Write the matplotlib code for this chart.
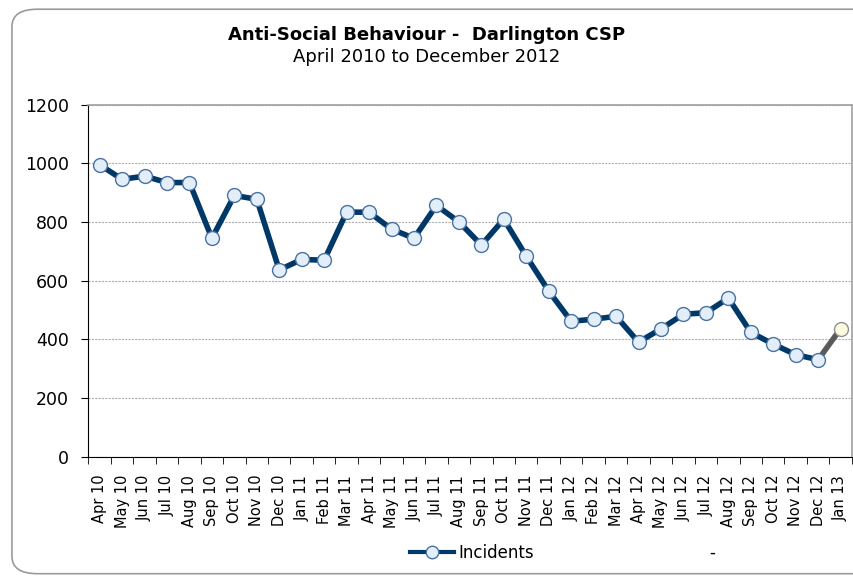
import numpy as np
import matplotlib.pyplot as plt
from matplotlib.patches import FancyBboxPatch
from matplotlib.lines import Line2D

months = ['Apr 10', 'May 10', 'Jun 10', 'Jul 10', 'Aug 10', 'Sep 10', 'Oct 10', 'Nov 10',
          'Dec 10', 'Jan 11', 'Feb 11', 'Mar 11', 'Apr 11', 'May 11', 'Jun 11', 'Jul 11',
          'Aug 11', 'Sep 11', 'Oct 11', 'Nov 11', 'Dec 11', 'Jan 12', 'Feb 12', 'Mar 12',
          'Apr 12', 'May 12', 'Jun 12', 'Jul 12', 'Aug 12', 'Sep 12', 'Oct 12', 'Nov 12',
          'Dec 12', 'Jan 13']
incidents = [996, 946, 957, 935, 935, 745, 891, 878, 637, 673, 670, 834, 834, 776, 745,
             857, 801, 722, 810, 684, 565, 462, 469, 479, 391, 436, 486, 491, 541, 424,
             384, 348, 331, 437]

x = np.arange(len(months))
navy = '#003868'

fig = plt.figure(figsize=(8.54, 5.76), dpi=100)
# outer rounded chart border (runs off the right edge like the original)
fig.patches.append(FancyBboxPatch((0.014, 0.004), 1.2, 0.98,
                                  boxstyle='round,pad=0,rounding_size=0.03',
                                  transform=fig.transFigure, fill=False,
                                  edgecolor='#9a9a9a', linewidth=1.2))

ax = fig.add_axes([0.1035, 0.207, 0.894, 0.611])

# actual series up to Dec 12, last month drawn grey
ax.plot(x[:-1], incidents[:-1], color=navy, linewidth=4, zorder=3,
        marker='o', markersize=10, markerfacecolor='#e3eefb',
        markeredgecolor='#4a72a0', markeredgewidth=1)
ax.plot(x[-2:], incidents[-2:], color='#5a5a5a', linewidth=4, zorder=2)
ax.plot(x[-1], incidents[-1], marker='o', markersize=10, linestyle='none',
        markerfacecolor='#fdfbe0', markeredgecolor='#909090', markeredgewidth=1, zorder=4)

ax.set_xlim(-0.5, len(months) - 0.5)
ax.set_ylim(0, 1200)
ax.set_yticks(range(0, 1201, 200))
ax.yaxis.grid(True, linestyle=(0, (2, 1)), color='#b0b0b0', linewidth=0.8)
ax.set_axisbelow(True)

ax.set_xticks(x)
ax.set_xticklabels(months, rotation=90, fontsize=10.5)
ax.set_xticks(np.arange(-0.5, len(months), 1), minor=True)
ax.tick_params(axis='x', which='major', length=0, pad=13)
ax.tick_params(axis='x', which='minor', length=5, direction='out')
ax.tick_params(axis='y', labelsize=12.5, length=5, pad=9)

for s in ['top', 'right']:
    ax.spines[s].set_color('#a0a0a0')
    ax.spines[s].set_linewidth(1.2)
ax.spines['left'].set_color('#000000')
ax.spines['bottom'].set_color('#000000')

fig.text(0.5, 0.9306, 'Anti-Social Behaviour -  Darlington CSP', ha='center',
         va='baseline', fontsize=13, fontweight='bold')
fig.text(0.5, 0.892, 'April 2010 to December 2012', ha='center', va='baseline',
         fontsize=13)

handle = Line2D([], [], color=navy, linewidth=3, marker='o', markersize=9,
                markerfacecolor='#e3eefb', markeredgecolor='#4a72a0')
fig.legend([handle], ['Incidents'], loc='center', bbox_to_anchor=(0.553, 0.04),
           frameon=False, fontsize=12, handlelength=2.6, handletextpad=0.3)
fig.text(0.834, 0.04, '-', ha='center', va='center', fontsize=12)

plt.savefig('out.png')
plt.close()
